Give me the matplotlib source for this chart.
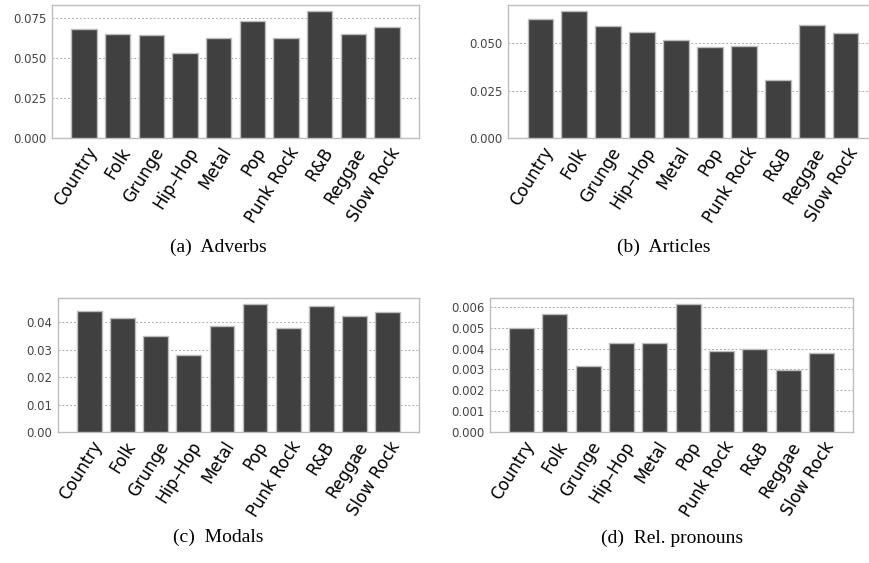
import matplotlib
matplotlib.use("Agg")
import matplotlib.pyplot as plt
import matplotlib.transforms as mtransforms
from matplotlib.ticker import MultipleLocator, FormatStrFormatter

# genre-level frequencies of four word classes
genres = ["Country", "Folk", "Grunge", "Hip\u2013Hop", "Metal", "Pop",
          "Punk Rock", "R&B", "Reggae", "Slow Rock"]

adverbs = [0.0683, 0.0650, 0.0646, 0.0531, 0.0627, 0.0729, 0.0625, 0.0792, 0.0648, 0.0694]
articles = [0.0631, 0.0670, 0.0593, 0.0561, 0.0521, 0.0482, 0.0484, 0.0307, 0.0599, 0.0553]
modals = [0.0441, 0.0416, 0.0348, 0.0280, 0.0387, 0.0465, 0.0380, 0.0458, 0.0421, 0.0436]
rel_pronouns = [0.00497, 0.00564, 0.00317, 0.00425, 0.00428, 0.00612,
                0.00389, 0.00396, 0.00298, 0.00379]

captions = ["(a)  Adverbs", "(b)  Articles", "(c)  Modals", "(d)  Rel. pronouns"]

W, H = 870, 563
fig = plt.figure(figsize=(W / 100, H / 100), dpi=100)


def px_axes(left, top, right, bottom):
    return fig.add_axes([left / W, 1 - bottom / H, (right - left) / W, (bottom - top) / H])


panels = [
    (px_axes(52, 5, 419, 138), adverbs, 0.025, "%.3f"),
    (px_axes(508, 5, 878, 138), articles, 0.025, "%.3f"),
    (px_axes(58, 298, 419, 432), modals, 0.01, "%.2f"),
    (px_axes(490, 298, 853, 432), rel_pronouns, 0.001, "%.3f"),
]

# nudge the rotated genre labels right and down
shift = mtransforms.ScaledTranslation(9 / 100, -8 / 100, fig.dpi_scale_trans)

for ax, vals, step, fmt in panels:
    x = range(len(genres))
    ax.bar(x, vals, width=0.75, color="#404040", edgecolor="#bdbdbd", linewidth=1.0, zorder=3)
    ax.set_xlim(-0.95, 9.95)
    ax.set_ylim(0, max(vals) * 1.05)
    ax.yaxis.set_major_locator(MultipleLocator(step))
    ax.yaxis.set_major_formatter(FormatStrFormatter(fmt))
    ax.grid(axis="y", linestyle=(0, (2, 2)), color="#aaaaaa", linewidth=0.7, zorder=0)
    for s in ax.spines.values():
        s.set_color("#bdbdbd")
        s.set_linewidth(1.0)
    ax.tick_params(axis="y", length=0, pad=4, labelsize=8.5, labelcolor="#444444")
    ax.tick_params(axis="x", length=0, pad=2)
    ax.set_xticks(list(x))
    ax.set_xticklabels(genres, rotation=58, ha="right", va="center",
                       rotation_mode="anchor", fontsize=12)
    for lab in ax.get_xticklabels():
        lab.set_transform(lab.get_transform() + shift)

cap_pos = [(218, 247), (664, 247), (218, 537), (672, 538)]
for (cx, cy), cap in zip(cap_pos, captions):
    fig.text(cx / W, 1 - cy / H, cap, ha="center", va="center",
             family="Liberation Serif", fontsize=14)

fig.savefig("out.png", dpi=100)
